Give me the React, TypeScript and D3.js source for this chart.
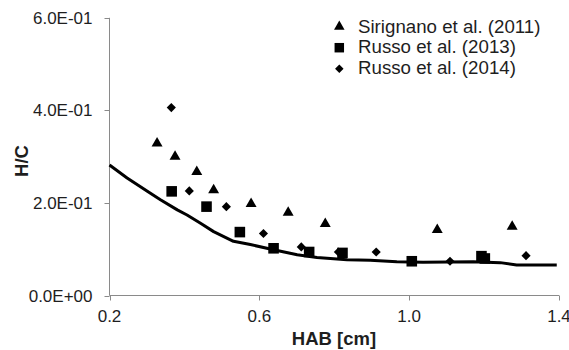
import React from "react";
import * as d3 from "d3";

const xTicks = [0.2, 0.6, 1.0, 1.4];
const yTicks = [0, 0.2, 0.4, 0.6];
const yTickLabels = ["0.0E+00", "2.0E-01", "4.0E-01", "6.0E-01"];

const sirignanoX = [0.327, 0.375, 0.433, 0.478, 0.578, 0.677, 0.776, 1.075, 1.275];
const sirignanoY = [0.329, 0.300, 0.267, 0.228, 0.198, 0.179, 0.155, 0.142, 0.149];

const russo13X = [0.366, 0.459, 0.548, 0.638, 0.733, 0.822, 1.007, 1.193, 1.202];
const russo13Y = [0.225, 0.192, 0.137, 0.102, 0.094, 0.092, 0.074, 0.085, 0.080];

const russo14X = [0.365, 0.413, 0.512, 0.611, 0.712, 0.811, 0.912, 1.109, 1.312];
const russo14Y = [0.406, 0.226, 0.192, 0.134, 0.105, 0.094, 0.094, 0.074, 0.086];

const modelX = [0.2, 0.247, 0.301, 0.336, 0.381, 0.407, 0.443, 0.478, 0.531, 0.576, 0.638, 0.701, 0.754, 0.834, 0.896, 0.967, 1.037, 1.171, 1.243, 1.287, 1.394];
const modelY = [0.282, 0.254, 0.225, 0.207, 0.185, 0.174, 0.156, 0.138, 0.117, 0.110, 0.099, 0.088, 0.082, 0.077, 0.076, 0.073, 0.072, 0.073, 0.071, 0.066, 0.066];

const legendLabels = ["Sirignano et al. (2011)", "Russo et al. (2013)", "Russo et al. (2014)"];

const FONT = "'Liberation Sans', Arial, sans-serif";

export default function App() {
  const W = 569, H = 350;
  const x = d3.scaleLinear().domain([0.2, 1.4]).range([109.5, 559]);
  const y = d3.scaleLinear().domain([0, 0.6]).range([295.5, 17.8]);

  const tri = d3.symbol().type(d3.symbolTriangle).size(52)() as string;
  const sq = d3.symbol().type(d3.symbolSquare).size(112)() as string;
  const dia = d3.symbol().type(d3.symbolSquare).size(42)() as string;

  const line = d3.line<number>().x((_, i) => x(modelX[i])).y((d) => y(d));
  const axisColor = "#8a8a8a";
  const textColor = "#1e1e1e";

  const markers = [
    { xs: sirignanoX, ys: sirignanoY, path: tri, rot: 0 },
    { xs: russo13X, ys: russo13Y, path: sq, rot: 0 },
    { xs: russo14X, ys: russo14Y, path: dia, rot: 45 },
  ];
  const legendLegend = [
    { path: d3.symbol().type(d3.symbolTriangle).size(48)() as string, rot: 0 },
    { path: d3.symbol().type(d3.symbolSquare).size(90)() as string, rot: 0 },
    { path: d3.symbol().type(d3.symbolSquare).size(36)() as string, rot: 45 },
  ];
  const legendMarkerY = [26.7, 47.7, 68.8];
  const legendTextY = [32.5, 53.3, 74.1];

  return (
    <svg width={W} height={H} style={{ position: "absolute", left: 0, top: 0, background: "#fff" }}>
      <rect x={0} y={0} width={W} height={H} fill="#fff" />
      {/* axes */}
      <line x1={x(0.2)} x2={x(0.2)} y1={y(0.6)} y2={y(0)} stroke={axisColor} strokeWidth={1} />
      <line x1={x(0.2)} x2={x(1.4)} y1={y(0)} y2={y(0)} stroke={axisColor} strokeWidth={1} />
      {yTicks.map((t, i) => (
        <g key={"yt" + i}>
          <line x1={x(0.2) - 5} x2={x(0.2)} y1={Math.round(y(t)) + 0.5} y2={Math.round(y(t)) + 0.5} stroke={axisColor} />
          <text x={92.5} y={y(t)} dy="0.36em" textAnchor="end" fontFamily={FONT} fontSize={17} fill={textColor}>
            {yTickLabels[i]}
          </text>
        </g>
      ))}
      {xTicks.map((t, i) => (
        <g key={"xt" + i}>
          <line x1={Math.round(x(t)) + 0.5} x2={Math.round(x(t)) + 0.5} y1={y(0)} y2={y(0) + 5} stroke={axisColor} />
          <text x={x(t)} y={321.8} textAnchor="middle" fontFamily={FONT} fontSize={17} fill={textColor}>
            {t.toFixed(1)}
          </text>
        </g>
      ))}
      <text x={334} y={344.5} textAnchor="middle" fontFamily={FONT} fontSize={18.5} fontWeight="bold" fill={textColor}>
        HAB [cm]
      </text>
      <text transform={`translate(27.5,161) rotate(-90)`} textAnchor="middle" fontFamily={FONT} fontSize={18.5} fontWeight="bold" fill={textColor}>
        H/C
      </text>
      {/* model line */}
      <path d={line(modelY) as string} fill="none" stroke="#000" strokeWidth={3} strokeLinejoin="round" />
      {/* markers */}
      {markers.map((m, si) =>
        m.xs.map((xv, i) => (
          <path key={si + "-" + i} d={m.path} fill="#000" transform={`translate(${x(xv)},${y(m.ys[i])}) rotate(${m.rot})`} />
        ))
      )}
      {/* legend */}
      {legendLabels.map((l, i) => (
        <g key={"lg" + i}>
          <path d={legendLegend[i].path} fill="#000" transform={`translate(339.3,${legendMarkerY[i]}) rotate(${legendLegend[i].rot})`} />
          <text x={358} y={legendTextY[i]} fontFamily={FONT} fontSize={18.7} fill={textColor}>
            {l}
          </text>
        </g>
      ))}
    </svg>
  );
}
